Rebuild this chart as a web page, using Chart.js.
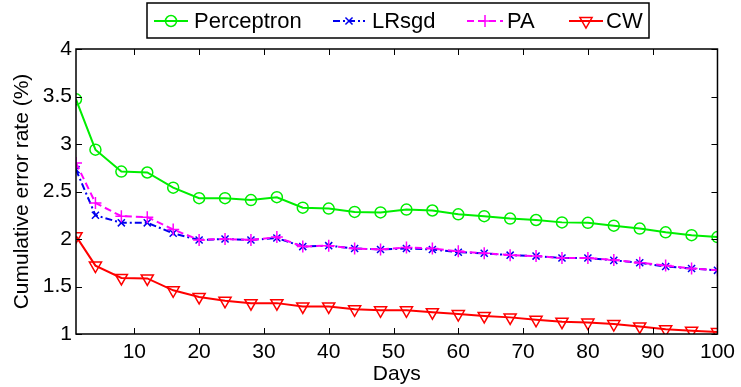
<!DOCTYPE html>
<html>
<head>
<meta charset="utf-8">
<script src="https://cdn.jsdelivr.net/npm/chart.js@4/dist/chart.umd.min.js"></script>
<style>
  html, body { margin: 0; padding: 0; background: #fff; }
  #errChart { display: block; }
</style>
</head>
<body>
<canvas id="errChart" width="741" height="387"></canvas>
<script>
// data
const days = [1, 4, 8, 12, 16, 20, 24, 28, 32, 36, 40, 44, 48, 52, 56, 60, 64, 68, 72, 76, 80, 84, 88, 92, 96, 100];
const perceptron = [3.47, 2.94, 2.71, 2.70, 2.54, 2.43, 2.43, 2.41, 2.44, 2.33, 2.32, 2.285, 2.28, 2.31, 2.30, 2.26, 2.24, 2.215, 2.20, 2.175, 2.17, 2.14, 2.11, 2.07, 2.04, 2.02];
const lrsgd = [2.73, 2.25, 2.17, 2.17, 2.06, 1.99, 2.00, 1.99, 2.01, 1.92, 1.93, 1.90, 1.89, 1.90, 1.89, 1.86, 1.85, 1.83, 1.82, 1.80, 1.80, 1.775, 1.75, 1.71, 1.69, 1.67];
const pa = [2.80, 2.38, 2.24, 2.23, 2.10, 1.99, 2.00, 1.99, 2.02, 1.92, 1.93, 1.90, 1.89, 1.91, 1.90, 1.87, 1.85, 1.83, 1.82, 1.80, 1.80, 1.78, 1.75, 1.72, 1.69, 1.67];
const cw = [2.03, 1.72, 1.59, 1.585, 1.46, 1.39, 1.35, 1.325, 1.325, 1.29, 1.29, 1.26, 1.25, 1.25, 1.23, 1.21, 1.19, 1.175, 1.15, 1.13, 1.12, 1.105, 1.08, 1.05, 1.035, 1.02];
const xTicks = [10, 20, 30, 40, 50, 60, 70, 80, 90, 100];
const yTicks = [1, 1.5, 2, 2.5, 3, 3.5, 4];

const FONT = "'Liberation Sans', Arial, Helvetica, sans-serif";
const toPoints = (arr) => arr.map((v, i) => ({ x: days[i], y: v }));

const series = [
  { label: "Perceptron", data: perceptron, color: "#00ee00", dash: [], style: "circle", radius: 5.5, rot: 0, order: 3 },
  { label: "LRsgd", data: lrsgd, color: "#0000ee", dash: [7, 3, 2, 3], style: "crossRot", radius: 5, rot: 0, order: 2 },
  { label: "PA", data: pa, color: "#ff00ff", dash: [7, 4], style: "cross", radius: 6, rot: 0, order: 1 },
  { label: "CW", data: cw, color: "#ff0000", dash: [], style: "triangle", radius: 7, rot: 180, order: 0 },
];

// box, inward ticks and the boxed legend (matlab look)
const matlabFrame = {
  id: "matlabFrame",
  afterDraw(chart) {
    const ctx = chart.ctx;
    const a = chart.chartArea;
    const xs = chart.scales.x, ys = chart.scales.y;
    ctx.save();
    ctx.strokeStyle = "#000";
    ctx.lineWidth = 1.5;
    ctx.strokeRect(a.left, a.top, a.right - a.left, a.bottom - a.top);
    ctx.lineWidth = 1;
    ctx.beginPath();
    xTicks.forEach((v) => {
      const px = Math.round(xs.getPixelForValue(v)) + 0.5;
      ctx.moveTo(px, a.bottom); ctx.lineTo(px, a.bottom - 6);
      ctx.moveTo(px, a.top); ctx.lineTo(px, a.top + 6);
    });
    yTicks.forEach((v) => {
      const py = Math.round(ys.getPixelForValue(v)) + 0.5;
      ctx.moveTo(a.left, py); ctx.lineTo(a.left + 6, py);
      ctx.moveTo(a.right, py); ctx.lineTo(a.right - 6, py);
    });
    ctx.stroke();

    // legend
    ctx.fillStyle = "#fff";
    ctx.fillRect(147, 3, 502, 35);
    ctx.strokeStyle = "#000";
    ctx.lineWidth = 1.5;
    ctx.strokeRect(147, 3, 502, 35);
    const pos = [[154, 188, 194], [333, 365, 372], [467, 503, 507], [569, 603, 606]];
    const ly = 21;
    series.forEach((s, i) => {
      const p = pos[i];
      ctx.strokeStyle = s.color;
      ctx.lineWidth = 2;
      ctx.setLineDash(s.dash);
      ctx.beginPath();
      ctx.moveTo(p[0], ly); ctx.lineTo(p[1], ly);
      ctx.stroke();
      ctx.setLineDash([]);
      ctx.fillStyle = "rgba(0,0,0,0)";
      ctx.strokeStyle = s.color;
      ctx.lineWidth = 1.5;
      Chart.helpers.drawPoint(ctx, {
        pointStyle: s.style, radius: s.radius, rotation: s.rot, borderWidth: 1.5
      }, (p[0] + p[1]) / 2, ly);
      ctx.fillStyle = "#000";
      ctx.font = "22px " + FONT;
      ctx.textBaseline = "middle";
      ctx.textAlign = "left";
      ctx.fillText(s.label, p[2], ly + 1);
    });
    ctx.restore();
  },
};

new Chart(document.getElementById("errChart"), {
  type: "line",
  data: {
    datasets: series.map((s) => ({
      label: s.label,
      data: toPoints(s.data),
      borderColor: s.color,
      borderWidth: 2,
      borderDash: s.dash,
      pointStyle: s.style,
      pointRadius: s.radius,
      pointRotation: s.rot,
      pointBorderColor: s.color,
      pointBackgroundColor: "rgba(0,0,0,0)",
      pointBorderWidth: 1.5,
      tension: 0,
      order: s.order,
    })),
  },
  options: {
    responsive: false,
    animation: false,
    layout: { padding: { top: 49, right: 21, left: 0, bottom: 0 } },
    plugins: {
      legend: { display: false },
      tooltip: { enabled: false },
    },
    scales: {
      x: {
        type: "linear",
        min: 1,
        max: 100,
        afterBuildTicks: (scale) => { scale.ticks = xTicks.map((v) => ({ value: v })); },
        afterFit: (scale) => { scale.height = 53; },
        grid: { display: false, drawTicks: false },
        border: { display: false },
        ticks: { color: "#000", font: { family: FONT, size: 21 }, padding: 6, maxRotation: 0, autoSkip: false },
        title: { display: true, text: "Days", color: "#000", font: { family: FONT, size: 21 }, padding: { top: 0, bottom: 0 } },
      },
      y: {
        min: 1,
        max: 4,
        afterBuildTicks: (scale) => { scale.ticks = yTicks.map((v) => ({ value: v })); },
        afterFit: (scale) => { scale.width = 76; },
        grid: { display: false, drawTicks: false },
        border: { display: false },
        ticks: { color: "#000", font: { family: FONT, size: 21 }, padding: 4, callback: (v) => String(v) },
        title: { display: true, text: "Cumulative error rate (%)", color: "#000", font: { family: FONT, size: 21 }, padding: { top: 10, bottom: 0 } },
      },
    },
  },
  plugins: [matlabFrame],
});
</script>
</body>
</html>
